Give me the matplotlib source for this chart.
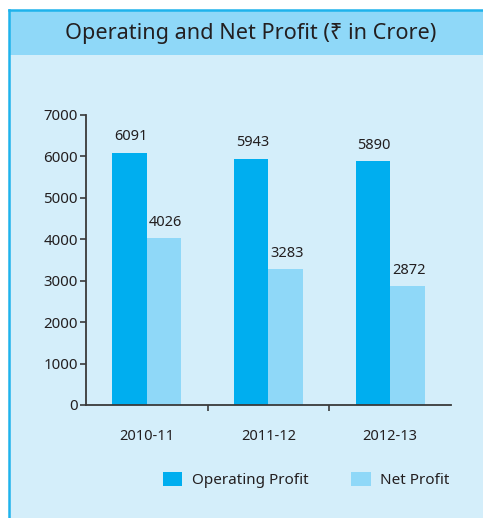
import numpy as np
import matplotlib
matplotlib.use('Agg')
import matplotlib.pyplot as plt
from matplotlib.patches import Rectangle

plt.rcParams['font.family'] = ['Noto Sans', 'DejaVu Sans']

years = ['2010-11', '2011-12', '2012-13']
operating_profit = [6091, 5943, 5890]
net_profit = [4026, 3283, 2872]

c_op = '#00AEEF'
c_net = '#8FD8F8'
c_body = '#D4EEFA'
c_axis = '#3a3a3a'
c_text = '#231F20'

W, H = 483, 518
fig = plt.figure(figsize=(W / 100, H / 100), dpi=100, facecolor='white')

# panel background, title band and border
fig.patches.append(Rectangle((9 / W, 0), 1, 508 / H, transform=fig.transFigure,
                             facecolor=c_body, edgecolor='none', zorder=-10))
fig.patches.append(Rectangle((9 / W, 463 / H), 1, 45 / H, transform=fig.transFigure,
                             facecolor=c_net, edgecolor='none', zorder=-9))
fig.lines.append(plt.Line2D([9 / W, 1], [508 / H, 508 / H], transform=fig.transFigure,
                            color='#1FB3EC', lw=1.8, zorder=-8))
fig.lines.append(plt.Line2D([9 / W, 9 / W], [0, 508 / H], transform=fig.transFigure,
                            color='#1FB3EC', lw=1.8, zorder=-8))
fig.text(251 / W, 1 - 33 / H, 'Operating and Net Profit (₹ in Crore)',
         ha='center', va='center', fontsize=15.6, color=c_text)

ax = fig.add_axes([86 / W, 1 - 405 / H, 365 / W, 290 / H])
ax.set_facecolor('none')

x = np.arange(len(years))
w = 0.284
b1 = ax.bar(x - w / 2, operating_profit, w, color=c_op, label='Operating Profit', zorder=2)
b2 = ax.bar(x + w / 2, net_profit, w, color=c_net, label='Net Profit', zorder=2)

for bars in (b1, b2):
    for r in bars:
        ax.annotate(f'{int(r.get_height())}', (r.get_x() + r.get_width() / 2, r.get_height()),
                    xytext=(1, 6), textcoords='offset points', ha='center', va='bottom',
                    fontsize=10.5, color=c_text)

ax.set_xlim(-0.5, 2.5)
ax.set_ylim(0, 7000)
ax.set_yticks(range(0, 7001, 1000))
ax.tick_params(axis='y', direction='out', length=4.5, width=1.2, color=c_axis,
               labelsize=10.8, labelcolor=c_text, pad=1.5)

ax.set_xticks([0.5, 1.5])
ax.set_xticklabels([])
ax.set_xticks(x, minor=True)
ax.set_xticklabels(years, minor=True)
ax.tick_params(axis='x', which='major', direction='out', length=4, width=1.2, color=c_axis)
ax.tick_params(axis='x', which='minor', length=0, pad=17, labelsize=10.5, labelcolor=c_text)

for s in ('top', 'right'):
    ax.spines[s].set_visible(False)
for s in ('left', 'bottom'):
    ax.spines[s].set_color(c_axis)
    ax.spines[s].set_linewidth(1.3)
    ax.spines[s].set_zorder(3)

fig.legend(handles=[b1, b2], loc='center', bbox_to_anchor=(306 / W, 1 - 480 / H), ncol=2,
           frameon=False, fontsize=11, handlelength=1.3, handleheight=1.1,
           handletextpad=0.6, columnspacing=2.8, labelcolor=c_text)

fig.savefig('out.png', dpi=100, facecolor='white')
